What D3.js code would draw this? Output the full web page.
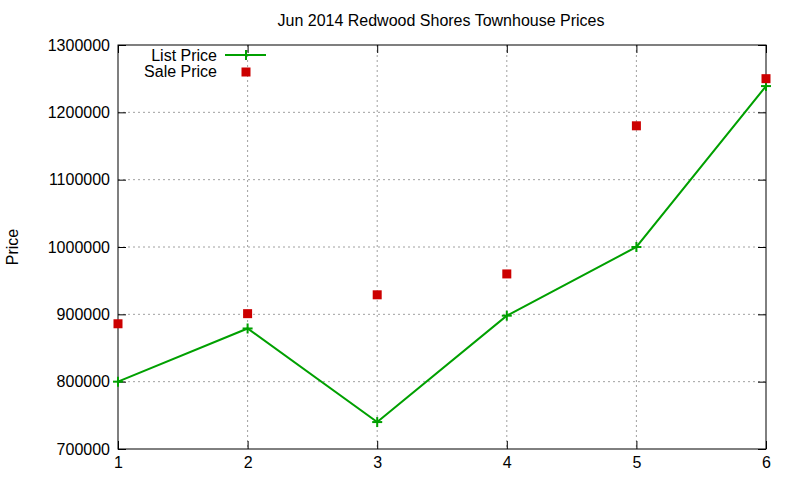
<!DOCTYPE html>
<html><head><meta charset="utf-8">
<script src="https://cdn.jsdelivr.net/npm/d3@7"></script>
<style>body{margin:0;background:#fff}svg{display:block}text{font-family:"Liberation Sans",Arial,sans-serif;fill:#000}</style>
</head><body><svg id="c" width="800" height="480"></svg>
<script>
const categories = [1, 2, 3, 4, 5, 6];
const listPrice = [800000, 879000, 740000, 898000, 1000000, 1239000];
const salePrice = [886000, 901000, 929000, 960000, 1180000, 1250000];
const yTicks = [700000, 800000, 900000, 1000000, 1100000, 1200000, 1300000];
const title = "Jun 2014 Redwood Shores Townhouse Prices";

const svg = d3.select("#c");
const L = 118, R = 766, T = 45, B = 449;
const x = d3.scaleLinear().domain([1, 6]).range([L, R]);
const y = d3.scaleLinear().domain([700000, 1300000]).range([B, T]);

// grid
const g = svg.append("g");
g.selectAll(".gx").data(categories.slice(1, -1)).enter().append("line")
  .attr("x1", d => x(d)).attr("x2", d => x(d)).attr("y1", T).attr("y2", B)
  .attr("stroke", "#a0a0a0").attr("stroke-dasharray", "2,3").attr("stroke-width", 1);
g.selectAll(".gy").data(yTicks.slice(1, -1)).enter().append("line")
  .attr("x1", L).attr("x2", R).attr("y1", d => y(d)).attr("y2", d => y(d))
  .attr("stroke", "#a0a0a0").attr("stroke-dasharray", "2,3").attr("stroke-width", 1);

// axes with inward ticks
const ax = svg.append("g").attr("transform", `translate(0,${B})`)
  .call(d3.axisBottom(x).tickValues(categories).tickFormat(d3.format("d")).tickSizeInner(-8).tickSizeOuter(0).tickPadding(8));
const axT = svg.append("g").attr("transform", `translate(0,${T})`)
  .call(d3.axisTop(x).tickValues(categories).tickFormat("").tickSizeInner(-8).tickSizeOuter(0));
const ay = svg.append("g").attr("transform", `translate(${L},0)`)
  .call(d3.axisLeft(y).tickValues(yTicks).tickFormat(d3.format("d")).tickSizeInner(-8).tickSizeOuter(0).tickPadding(8));
const ayR = svg.append("g").attr("transform", `translate(${R},0)`)
  .call(d3.axisRight(y).tickValues(yTicks).tickFormat("").tickSizeInner(-8).tickSizeOuter(0));
[ax, axT, ay, ayR].forEach(a => { a.select(".domain").remove(); a.selectAll("line").attr("stroke", "#000"); a.selectAll("text").attr("font-size", 16).attr("fill", "#000").style("font-family", '"Liberation Sans",Arial,sans-serif'); });
ax.selectAll("text").attr("dy", "0.71em");

svg.append("rect").attr("x", L).attr("y", T).attr("width", R - L).attr("height", B - T)
  .attr("fill", "none").attr("stroke", "#000").attr("stroke-width", 1);

// list price line
const green = "#00a000";
svg.append("path").datum(categories.map((c, i) => [c, listPrice[i]]))
  .attr("d", d3.line().x(d => x(d[0])).y(d => y(d[1])))
  .attr("fill", "none").attr("stroke", green).attr("stroke-width", 2);
const plus = (sel, cx, cy) => {
  sel.append("line").attr("x1", cx - 5).attr("x2", cx + 5).attr("y1", cy).attr("y2", cy).attr("stroke", green).attr("stroke-width", 2);
  sel.append("line").attr("x1", cx).attr("x2", cx).attr("y1", cy - 5).attr("y2", cy + 5).attr("stroke", green).attr("stroke-width", 2);
};
const pg = svg.append("g");
categories.forEach((c, i) => plus(pg, x(c), y(listPrice[i])));

// sale price points
svg.append("g").selectAll("rect").data(categories).enter().append("rect")
  .attr("x", (d) => x(d) - 4.5).attr("y", (d, i) => y(salePrice[i]) - 4.5)
  .attr("width", 9).attr("height", 9).attr("fill", "#cc0000");

// legend
svg.append("text").attr("x", 217).attr("y", 61).attr("text-anchor", "end").attr("font-size", 16).text("List Price");
svg.append("line").attr("x1", 225).attr("x2", 266).attr("y1", 55).attr("y2", 55).attr("stroke", green).attr("stroke-width", 2);
plus(svg, 246, 55);
svg.append("text").attr("x", 217).attr("y", 77).attr("text-anchor", "end").attr("font-size", 16).text("Sale Price");
svg.append("rect").attr("x", 241.5).attr("y", 67.5).attr("width", 9).attr("height", 9).attr("fill", "#cc0000");

// title and y label
svg.append("text").attr("x", 441).attr("y", 26).attr("text-anchor", "middle").attr("font-size", 16).text(title);
svg.append("text").attr("transform", "translate(18,247) rotate(-90)").attr("text-anchor", "middle").attr("font-size", 16).text("Price");
</script></body></html>
